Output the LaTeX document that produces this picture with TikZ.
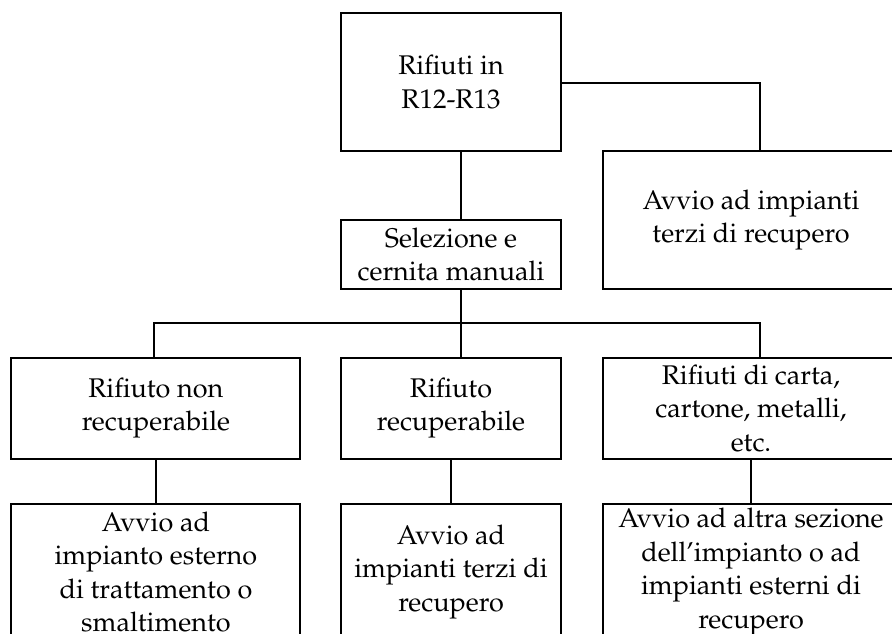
\documentclass[tikz,border=0pt]{standalone}
\usepackage[T1]{fontenc}
\usepackage{mathpazo}
\begin{document}
\begin{tikzpicture}[x=1pt,y=-1pt,
  box/.style={draw, line width=1.9pt, rectangle, inner sep=0pt, align=center,
    font=\fontsize{27}{33.6}\selectfont},
  link/.style={line width=1.9pt}]
\useasboundingbox (0,0) rectangle (892,634);
\clip (0,0) rectangle (892,634);
\node[box, minimum width=220pt, minimum height=138pt] (top) at (451,82) {Rifiuti in\\R12-R13};
\node[box, minimum width=296pt, minimum height=137.7pt] (right) at (751,220) {Avvio ad impianti\\terzi di recupero};
\node[box, minimum width=220pt, minimum height=68.7pt] (sel) at (451,254.4) {Selezione e\\cernita manuali};
\node[box, minimum width=289pt, minimum height=101pt] (a) at (155.9,408.2) {Rifiuto non\\recuperabile};
\node[box, minimum width=220pt, minimum height=101pt] (b) at (451,408.2) {Rifiuto\\recuperabile};
\node[box, minimum width=296pt, minimum height=101pt] (c) at (751,408.2) {Rifiuti di carta,\\cartone, metalli,\\etc.};
\node[box, minimum width=289pt, minimum height=136pt] (a2) at (155.9,572) {Avvio ad\\impianto esterno\\di trattamento o\\smaltimento};
\node[box, minimum width=220pt, minimum height=136pt] (b2) at (451,572) {Avvio ad\\impianti terzi di\\recupero};
\node[box, minimum width=296pt, minimum height=136pt] (c2) at (751,572) {Avvio ad altra sezione\\dell'impianto o ad\\impianti esterni di\\recupero};
\coordinate (j) at (461,323.3);
\draw[link] (top.east |- 0,82.7) -| ([xshift=9pt]right.north);
\draw[link] ([xshift=10pt]top.south) -- ([xshift=10pt]sel.north);
\draw[link] ([xshift=10pt]sel.south) -- (j);
\draw[link] ([xshift=-2.3pt]a.north) |- (j) -| ([xshift=9pt]c.north);
\draw[link] (j) -- ([xshift=10pt]b.north);
\draw[link] (a.south) -- (a2.north);
\draw[link] (b.south) -- (b2.north);
\draw[link] (c.south) -- (c2.north);
\end{tikzpicture}
\end{document}
